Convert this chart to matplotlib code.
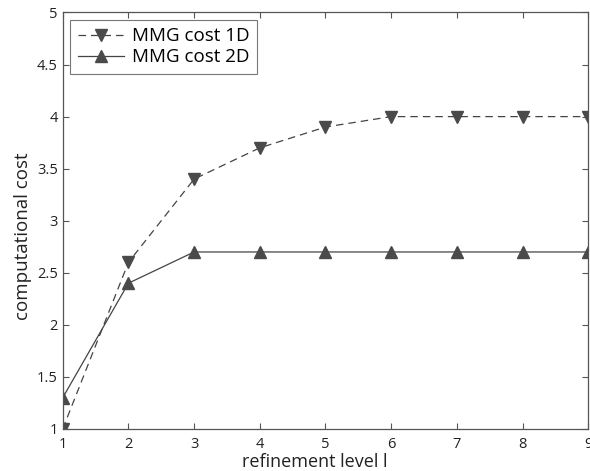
import matplotlib
matplotlib.use("Agg")
import matplotlib.pyplot as plt

levels = [1, 2, 3, 4, 5, 6, 7, 8, 9]
cost_1d = [1.0, 2.6, 3.4, 3.7, 3.9, 4.0, 4.0, 4.0, 4.0]
cost_2d = [1.3, 2.4, 2.7, 2.7, 2.7, 2.7, 2.7, 2.7, 2.7]
ytick_vals = [1, 1.5, 2, 2.5, 3, 3.5, 4, 4.5, 5]
ytick_labels = ["1", "1.5", "2", "2.5", "3", "3.5", "4", "4.5", "5"]

plt.rcParams["font.family"] = ["Open Sans", "DejaVu Sans"]
GRAY = "#444444"
MARK = "#4a4a4a"

fig = plt.figure(figsize=(5.9, 4.71), dpi=100)
ax = fig.add_axes([0.1063, 0.0892, 0.8907, 0.8843])

ax.plot(levels, cost_1d, ls=(0, (6, 4)), color=GRAY, lw=0.9,
        marker="v", ms=9, mfc=MARK, mec=MARK, label="MMG cost 1D")
ax.plot(levels, cost_2d, ls="-", color=GRAY, lw=0.9,
        marker="^", ms=9, mfc=MARK, mec=MARK, label="MMG cost 2D")

ax.set_xlim(1, 9)
ax.set_ylim(1, 5)
ax.set_xticks(levels)
ax.set_yticks(ytick_vals)
ax.set_yticklabels(ytick_labels)
ax.tick_params(direction="in", top=True, right=True, length=4, width=0.8,
               colors="#555555", labelcolor="#222222", labelsize=10.5)
ax.tick_params(axis="x", pad=6)
for s in ax.spines.values():
    s.set_color("#555555")
    s.set_linewidth(0.9)

ax.set_xlabel("refinement level l", fontsize=13, color="#222222", va="top")
ax.xaxis.set_label_coords(0.48, -0.058)
ax.set_ylabel("computational cost", fontsize=13.5, color="#222222")
ax.yaxis.set_label_coords(-0.058, 0.463)

leg = ax.legend(loc="upper left", bbox_to_anchor=(0.0139, 0.982),
                borderaxespad=0, fontsize=13.5, frameon=True, fancybox=False,
                edgecolor="#555555", handlelength=2.5, handletextpad=0.4,
                borderpad=0.4, labelspacing=0.15)
leg.get_frame().set_linewidth(0.8)

fig.savefig("out.png", dpi=100)
